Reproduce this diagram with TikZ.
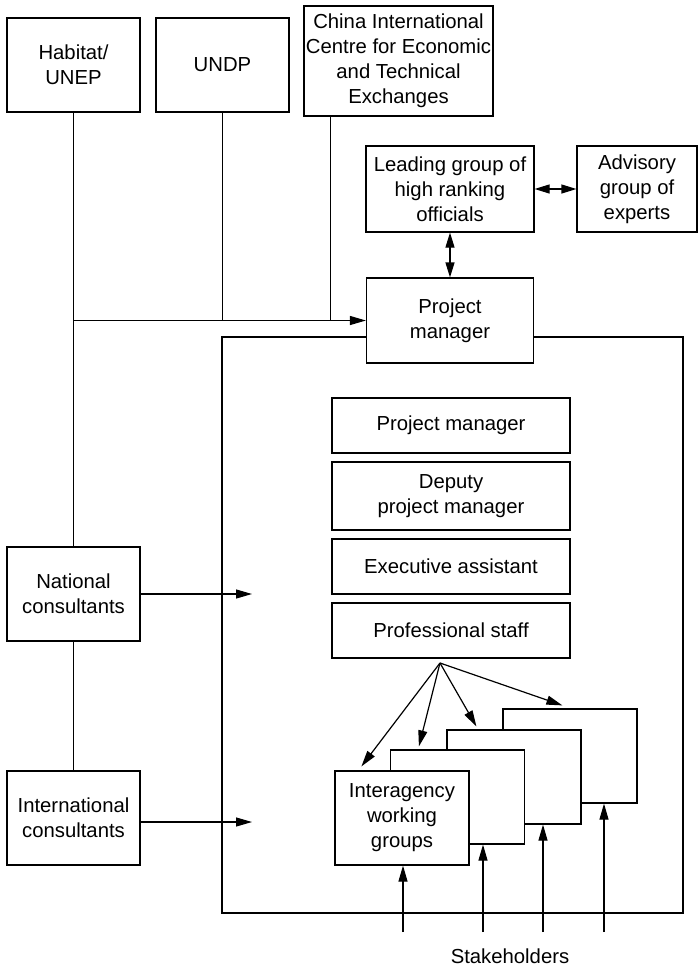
\documentclass[tikz,border=0pt]{standalone}
\usepackage{fontspec}
\setmainfont{Liberation Sans}
\usetikzlibrary{arrows.meta,calc}
\begin{document}
\begin{tikzpicture}[x=1pt,y=-1pt,
  line width=1.2pt,
  box/.style={draw,fill=white,inner sep=0pt,align=center,
    font=\fontsize{20.3}{25}\selectfont},
  arr/.style={-{Triangle[length=16pt,width=9pt]}},
  darr/.style={{Triangle[length=15pt,width=9pt]}-{Triangle[length=15pt,width=9pt]}},
  lbl/.style={font=\fontsize{20.3}{25}\selectfont}]
\useasboundingbox (0,0) rectangle (699,967);
% top sponsors
\node[box,minimum width=133pt,minimum height=94pt] (hab) at (73.5,65) {Habitat/\\UNEP};
\node[box,minimum width=133pt,minimum height=94pt] (undp) at (222.5,65) {UNDP};
\node[box,minimum width=189pt,minimum height=110pt] (china) at (398.5,61) {China International\\Centre for Economic\\and Technical\\Exchanges};
% governance
\node[box,minimum width=168pt,minimum height=86pt] (lead) at (450,189) {Leading group of\\high ranking\\officials};
\node[box,minimum width=120pt,minimum height=86pt] (adv) at (637,189) {Advisory\\group of\\experts};
\node[box,minimum width=167pt,minimum height=85pt] (pm) at (450,320.5) {Project\\manager};
% inner team
\node[box,minimum width=238pt,minimum height=55pt] (pm2) at (451,425.5) {Project manager};
\node[box,minimum width=238pt,minimum height=68pt] (dep) at (451,496) {Deputy\\project manager};
\node[box,minimum width=238pt,minimum height=55pt] (exe) at (451,566.5) {Executive assistant};
\node[box,minimum width=238pt,minimum height=55pt] (prof) at (451,630.5) {Professional staff};
% consultants
\node[box,minimum width=133pt,minimum height=94pt] (nat) at (73.5,594) {National\\consultants};
\node[box,minimum width=133pt,minimum height=94pt] (intl) at (73.5,818) {International\\consultants};
% frame
\coordinate (fr1) at (222,337);
\coordinate (fr2) at (222,913);
\coordinate (fr3) at (683,913);
\coordinate (fr4) at (683,337);
\draw (pm.west |- fr1) -- (fr1) -- (fr2) -- (fr3) -- (fr4) -- (pm.east |- fr4);
% working groups (back to front)
\node[box,minimum width=134pt,minimum height=94pt] (ig4) at (570,756) {};
\node[box,minimum width=134pt,minimum height=94pt] (ig3) at (514,777) {};
\node[box,minimum width=134pt,minimum height=94pt] (ig2) at (457.5,797) {};
\node[box,minimum width=134pt,minimum height=94pt] (ig1) at (402,818) {Interagency\\working\\groups};
% sponsor connectors
\coordinate (hj) at (hab.south |- pm.west);
\coordinate (ctop) at ($(china.south west)+(27,0)$);
\draw (hab) -- (nat);
\draw (nat) -- (intl);
\draw[arr] (hj) -- (pm.west);
\draw (undp.south) -- (undp.south |- pm.west);
\draw (ctop) -- (ctop |- pm.west);
\draw[darr] (lead.east) -- (adv.west);
\draw[darr] (lead.south) -- (pm.north);
% consultants to team
\coordinate (nt) at (252,594);
\coordinate (it) at (252,822);
\draw[arr] (nat.east) -- (nt);
\draw[arr] (intl.east |- it) -- (it);
% fan from professional staff
\coordinate (f) at (440,663);
\draw[arr] (f) -- ($(ig1.north west)+(27,-4)$);
\draw[arr] (f) -- ($(ig2.north west)+(29,-3)$);
\draw[arr] (f) -- ($(ig3.north west)+(30,-3)$);
\draw[arr] (f) -- ($(ig4.north west)+(60,-3)$);
% stakeholders
\node[lbl] (stk) at (510,956) {Stakeholders};
\coordinate (s1) at (403,932);
\coordinate (s2) at (483,932);
\coordinate (s3) at (543,932);
\coordinate (s4) at (604,932);
\draw[arr] (s1) -- (s1 |- ig1.south);
\draw[arr] (s2) -- (s2 |- ig2.south);
\draw[arr] (s3) -- (s3 |- ig3.south);
\draw[arr] (s4) -- (s4 |- ig4.south);
\end{tikzpicture}
\end{document}
